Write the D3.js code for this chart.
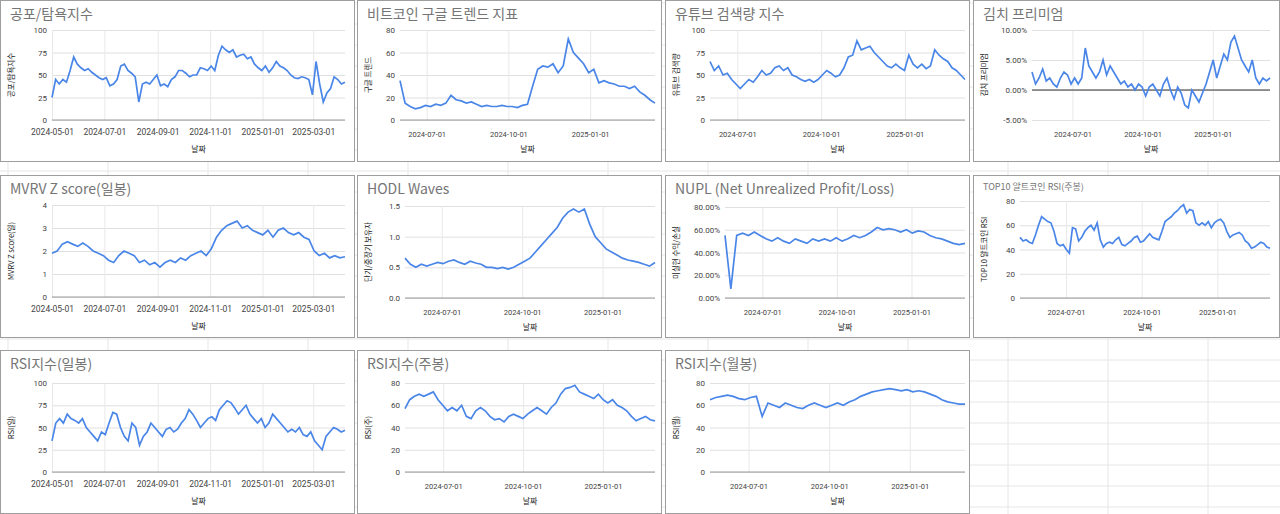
<!DOCTYPE html>
<html><head><meta charset="utf-8">
<script src="https://cdn.jsdelivr.net/npm/d3@7"></script>
<style>body{margin:0;background:#fff;font-family:"Noto Sans CJK KR","Noto Sans",Roboto,sans-serif}</style>
</head><body><svg id="c" width="1280" height="514"></svg>
<script>
const fearGreed=[25,45,40,45,42,55,70,62,58,55,57,53,50,47,45,47,38,40,45,60,62,55,52,48,20,40,42,40,45,50,38,40,37,45,48,55,55,52,48,50,50,58,57,55,60,55,72,82,78,75,78,70,72,73,68,70,62,58,55,60,53,58,65,60,58,55,50,47,46,48,47,45,28,65,40,20,30,35,48,45,40,42];
const googleTrend=[35,15,12,10,11,13,12,14,13,15,22,18,17,15,16,14,12,13,12,12,13,12,12,11,13,14,30,45,48,47,50,42,48,72,60,55,50,42,45,33,35,33,32,30,30,28,30,25,22,18,15];
const youtube=[65,55,60,50,52,45,40,35,40,45,42,48,55,50,52,58,60,55,58,50,48,45,43,45,42,45,50,55,52,48,50,58,70,72,88,78,80,82,75,70,65,60,58,62,58,55,72,62,58,62,57,60,78,72,68,65,58,55,50,45];
const kimchi=[3,1,2,3.5,1.5,2,1,0.5,2,3,2.5,1,2,1,2,7,4,3,2,3,5,2.5,4,3,2,1,1.5,0.5,1,0,1,0.5,-1,0.5,1,0,-1,1,2,0,-1.5,0.5,-0.5,-2.5,-3,0,-1,-2,-0.5,1,3,5,2,4,6,5,8,9,7,5,4,3,5,2,1,2,1.5,2];
const mvrv=[1.9,2.0,2.3,2.4,2.3,2.2,2.35,2.2,2.0,1.9,1.8,1.6,1.5,1.8,2.0,1.9,1.8,1.5,1.6,1.4,1.5,1.3,1.5,1.6,1.5,1.7,1.6,1.8,1.9,2.0,1.8,2.1,2.6,2.9,3.1,3.2,3.3,3.0,3.1,2.9,2.8,2.7,2.9,2.6,2.9,3.0,2.8,2.7,2.8,2.6,2.5,2.0,1.8,1.9,1.7,1.8,1.7,1.75];
const hodl=[0.65,0.55,0.5,0.55,0.52,0.55,0.58,0.56,0.6,0.62,0.58,0.55,0.6,0.57,0.55,0.5,0.5,0.48,0.5,0.47,0.5,0.55,0.6,0.65,0.75,0.85,0.95,1.05,1.15,1.3,1.4,1.45,1.4,1.45,1.2,1.0,0.9,0.8,0.75,0.7,0.65,0.62,0.6,0.58,0.55,0.52,0.58];
const nupl=[55,8,55,57,55,58,55,52,50,53,50,48,52,50,48,52,50,52,50,53,50,52,55,53,55,58,62,60,61,60,58,60,57,59,58,55,53,52,50,48,47,48];
const altRsi=[50,47,48,46,45,52,60,67,65,63,62,55,45,43,44,40,37,58,57,47,50,55,58,60,56,62,48,42,45,46,45,48,50,44,43,45,47,50,51,46,47,50,53,50,49,48,55,63,65,67,70,72,75,77,70,73,72,62,60,62,60,63,58,62,64,65,62,55,50,52,53,54,52,47,45,41,42,44,46,45,42,41];
const rsiDay=[35,55,60,55,65,60,58,55,60,50,45,40,35,45,42,55,67,65,50,40,35,55,50,30,40,45,55,50,45,40,48,50,45,48,55,60,70,65,58,50,55,60,62,58,70,75,80,78,72,65,70,75,65,60,55,60,50,55,65,60,55,50,45,48,45,50,42,40,45,35,30,25,40,45,50,48,45,47];
const rsiWeek=[57,65,68,70,68,70,72,65,60,55,58,55,60,50,48,55,58,55,50,47,48,45,50,52,50,48,52,55,58,55,52,58,62,70,75,76,78,72,70,68,66,70,65,62,65,60,58,55,50,46,48,50,47,46];
const rsiMonth=[65,67,68,69,68,66,65,67,68,50,62,60,58,62,60,58,57,60,62,60,58,60,62,60,63,65,68,70,72,73,74,75,74,73,74,72,73,72,70,68,65,63,62,61,61];
const ticksBi=["2024-05-01","2024-07-01","2024-09-01","2024-11-01","2025-01-01","2025-03-01"];
const ticksQ=["2024-07-01","2024-10-01","2025-01-01"];

const P=d3.timeParse("%Y-%m-%d");
const panels=[
 {t:"공포/탐욕지수",yl:"공포/탐욕지수",d:fearGreed,box:[0,0,355,162],pl:[52,30,345,120],dom:["2024-05-01","2025-04-07"],y:[0,100],yt:[0,25,50,75,100],xt:ticksBi,f:d=>d},
 {t:"비트코인 구글 트렌드 지표",yl:"구글 트렌드",d:googleTrend,box:[357,0,305,162],pl:[400,30,655,120],dom:["2024-06-01","2025-03-15"],y:[0,80],yt:[0,20,40,60,80],xt:ticksQ,f:d=>d},
 {t:"유튜브 검색량 지수",yl:"유튜브 검색량",d:youtube,box:[665,0,305,162],pl:[710,30,965,120],dom:["2024-06-01","2025-03-08"],y:[0,100],yt:[0,25,50,75,100],xt:ticksQ,f:d=>d},
 {t:"김치 프리미엄",yl:"김치 프리미엄",d:kimchi,box:[973,0,307,162],pl:[1032,30,1270,120],dom:["2024-05-09","2025-03-17"],y:[-5,10],yt:[-5,0,5,10],xt:ticksQ,f:d=>d.toFixed(2)+"%",zero:true},
 {t:"MVRV Z score(일봉)",yl:"MVRV Z score(일)",d:mvrv,box:[0,175,355,163],pl:[52,205,345,297],dom:["2024-05-01","2025-04-07"],y:[0,4],yt:[0,1,2,3,4],xt:ticksBi,f:d=>d},
 {t:"HODL Waves",yl:"단기/중장기 보유자",d:hodl,box:[357,175,305,163],pl:[405,206,655,298],dom:["2024-05-20","2025-03-02"],y:[0,1.5],yt:[0,0.5,1,1.5],xt:ticksQ,f:d=>d.toFixed(1)},
 {t:"NUPL (Net Unrealized Profit/Loss)",yl:"미실현 수익/손실",d:nupl,box:[665,175,305,163],pl:[725,207,965,298],dom:["2024-05-16","2025-03-08"],y:[0,80],yt:[0,20,40,60,80],xt:ticksQ,f:d=>d.toFixed(2)+"%"},
 {t:"TOP10 알트코인 RSI(주봉)",yl:"TOP10 알트코인 RSI",d:altRsi,box:[973,175,307,163],pl:[1020,201,1270,298],dom:["2024-05-06","2025-03-06"],y:[0,80],yt:[0,20,40,60,80],xt:ticksQ,f:d=>d,small:true},
 {t:"RSI지수(일봉)",yl:"RSI(일)",d:rsiDay,box:[0,350,355,164],pl:[52,383,345,472],dom:["2024-05-01","2025-04-07"],y:[0,100],yt:[0,25,50,75,100],xt:ticksBi,f:d=>d},
 {t:"RSI지수(주봉)",yl:"RSI(주)",d:rsiWeek,box:[357,350,305,164],pl:[405,383,655,472],dom:["2024-05-18","2025-03-02"],y:[0,80],yt:[0,20,40,60,80],xt:ticksQ,f:d=>d},
 {t:"RSI지수(월봉)",yl:"RSI(월)",d:rsiMonth,box:[665,350,305,164],pl:[710,383,965,472],dom:["2024-05-18","2025-03-05"],y:[0,80],yt:[0,20,40,60,80],xt:ticksQ,f:d=>d},
];
const svg=d3.select("#c");
const bg=svg.append("g");
for(let x=0;x<=1280;x+=100)bg.append("line").attr("x1",x+8).attr("x2",x+8).attr("y1",0).attr("y2",514).attr("stroke","#e6e6e6");
for(let y=0;y<=514;y+=21)bg.append("line").attr("x1",0).attr("x2",1280).attr("y1",y+3).attr("y2",y+3).attr("stroke","#e6e6e6");
panels.forEach(p=>{
  const g=svg.append("g");
  const [bx,by,bw,bh]=p.box;
  g.append("rect").attr("x",bx+0.5).attr("y",by+0.5).attr("width",bw-1).attr("height",bh-1).attr("fill","#fff").attr("stroke","#9e9e9e");
  g.append("text").attr("x",bx+10).attr("y",by+(p.small?15:19)).text(p.t).attr("fill","#757575").attr("font-size",p.small?9:14);
  const [l,t,r,b]=p.pl;
  const x=d3.scaleTime().domain(p.dom.map(P)).range([l,r]);
  const y=d3.scaleLinear().domain(p.y).range([b,t]);
  const gy=g.append("g").attr("transform",`translate(${l},0)`).call(d3.axisLeft(y).tickValues(p.yt).tickSize(-(r-l)).tickPadding(5).tickFormat(p.f));
  gy.select(".domain").remove();
  gy.selectAll("line").attr("stroke","#e0e0e0");
  gy.selectAll("text").attr("fill","#444").attr("font-size",8).attr("font-family","Roboto,sans-serif");
  const big=p.xt.length>3;
  const gx=g.append("g").attr("transform",`translate(0,${b})`).call(d3.axisBottom(x).tickValues(p.xt.map(P)).tickSize(-(b-t)).tickFormat(d3.timeFormat("%Y-%m-%d")));
  gx.select(".domain").remove();
  gx.selectAll("line").attr("stroke","#e8e8e8");
  gx.selectAll("text").attr("fill","#444").attr("font-size",big?8.5:7.5).attr("font-family","Roboto,sans-serif").attr("y",big?9:12).attr("dy","0.71em");
  const base=p.y[0]<0?0:p.y[0];
  g.append("line").attr("x1",l).attr("x2",r).attr("y1",y(base)).attr("y2",y(base)).attr("stroke",p.zero?"#333":"#999");
  const t0=P(p.dom[0]).getTime(),t1=P(p.dom[1]).getTime(),n=p.d.length;
  const line=d3.line().x((d,i)=>x(new Date(t0+(t1-t0)*i/(n-1)))).y(d=>y(d));
  g.append("path").datum(p.d).attr("d",line).attr("fill","none").attr("stroke","#4a86e8").attr("stroke-width",1.7);
  g.append("text").attr("transform",`translate(${bx+14},${(t+b)/2}) rotate(-90)`).attr("text-anchor","middle").attr("font-size",7.5).attr("fill","#222").text(p.yl);
  g.append("text").attr("x",(l+r)/2).attr("y",b+32).attr("text-anchor","middle").attr("font-size",8).attr("fill","#222").text("날짜");
});
</script></body></html>
